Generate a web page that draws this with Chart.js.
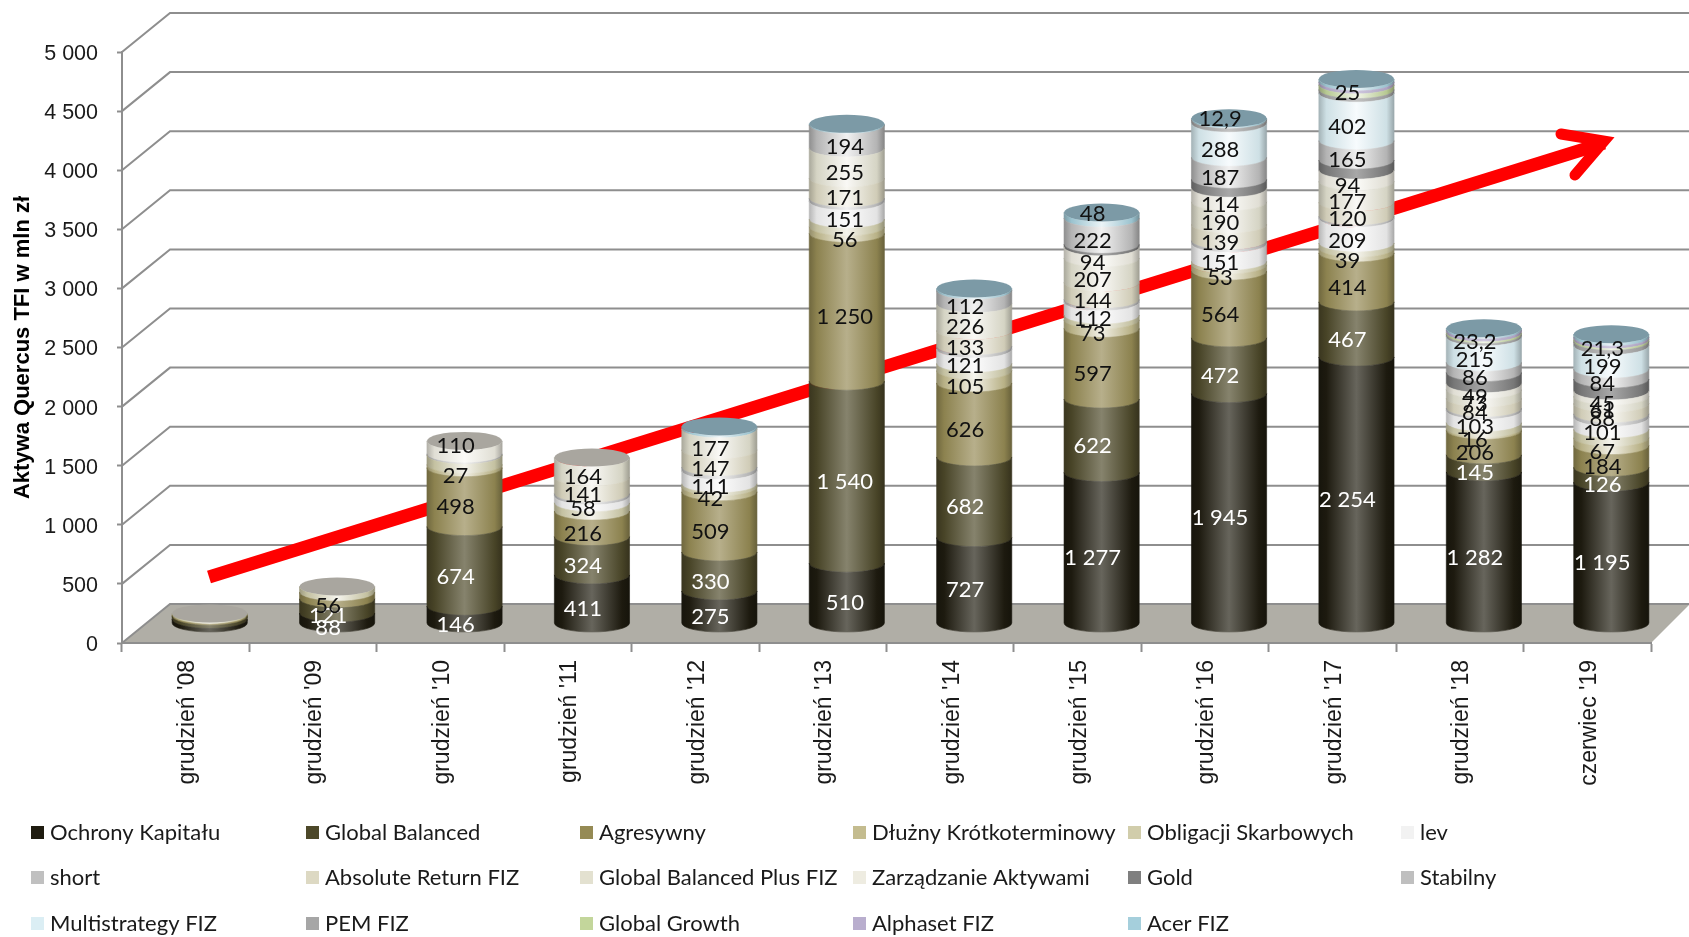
<!DOCTYPE html>
<html>
<head>
<meta charset="utf-8">
<title>Aktywa Quercus TFI</title>
<script src="https://cdn.jsdelivr.net/npm/chart.js@4"></script>
<style>
    html, body { margin: 0; padding: 0; background: #ffffff; }
    canvas { display: block; }
</style>
</head>
<body>
<canvas id="assetsChart" width="1689" height="937"></canvas>
<script>
const categories = ["grudzień '08", "grudzień '09", "grudzień '10", "grudzień '11", "grudzień '12", "grudzień '13", "grudzień '14", "grudzień '15", "grudzień '16", "grudzień '17", "grudzień '18", "czerwiec '19"];

const ochrony = [35, 88, 146, 411, 275, 510, 727, 1277, 1945, 2254, 1282, 1195];
const globalBalanced = [25, 121, 674, 324, 330, 1540, 682, 622, 472, 467, 145, 126];
const agresywny = [10, 56, 498, 216, 509, 1250, 626, 597, 564, 414, 206, 184];
const dluzny = [5, null, 27, null, 42, 56, 105, 73, 53, 39, 16, 67];
const obligacji = [10, 48, 80, 70, 26, 65, 60, 40, 30, 45, 50, 71];
const lev = [null, null, null, 58, 111, 151, 121, 112, 151, 209, 103, 101];
const shortFund = [null, null, 10, 20, 30, 25, 25, 20, 24, 16, 20, 30];
const absoluteReturn = [null, null, null, 141, 147, 171, 133, 144, 139, 120, 84, 88];
const globalBalancedPlus = [null, null, null, 164, 177, 255, 226, 207, 190, 177, 73, 61];
const zarzadzanie = [null, null, 110, null, null, null, null, 94, 114, 94, 49, 45];
const gold = [null, null, null, null, null, null, null, 21, 75, 85, 95, 100];
const stabilny = [0, 0, 0, 0, null, 194, 112, 222, 187, 165, 86, 84];
const multistrategy = [null, null, null, null, null, null, null, null, 288, 402, 215, 199];
const pem = [null, null, null, null, null, null, null, null, 30, 30, 20, 35];
const globalGrowth = [null, null, null, null, null, null, null, null, null, 40, 15, 15];
const alphaset = [null, null, null, null, null, null, null, null, null, 25, 23.2, 21.3];
const acer = [null, null, null, null, 20, 10, 17, 48, 12.9, 25, 15, 25];

const seriesNames = ["Ochrony Kapitału", "Global Balanced", "Agresywny", "Dłużny Krótkoterminowy", "Obligacji Skarbowych", "lev", "short", "Absolute Return FIZ", "Global Balanced Plus FIZ", "Zarządzanie Aktywami", "Gold", "Stabilny", "Multistrategy FIZ", "PEM FIZ", "Global Growth", "Alphaset FIZ", "Acer FIZ"];
const seriesValues = [ochrony, globalBalanced, agresywny, dluzny, obligacji, lev, shortFund, absoluteReturn, globalBalancedPlus, zarzadzanie, gold, stabilny, multistrategy, pem, globalGrowth, alphaset, acer];
const seriesColors = ["#1f1c10", "#4d4829", "#958a54", "#c4bc8f", "#d1cdab", "#f2f2f2", "#c0c0c0", "#ddd9c3", "#e3e1d0", "#eeece1", "#7f7f7f", "#bfbfbf", "#dbeef4", "#a6a6a6", "#c3d69b", "#b9aece", "#a5cfdc"];
const lidColors = { "Stabilny": "#a9a69f", "Acer FIZ": "#7c9aa6" };

// series and points that carry no label in the original
const unlabelledSeries = ["Obligacji Skarbowych", "short", "Gold", "PEM FIZ", "Global Growth"];
const unlabelledCategories = ["grudzień '08"];
const unlabelledAcer = ["grudzień '12", "grudzień '13", "grudzień '14", "grudzień '17", "grudzień '18", "czerwiec '19"];

const labelFont = "22px Lato";
const lineGray = "#8e8e8e";

// 3d look: the walls are shifted by this much, bars stand halfway
const depthX = 48;
const depthY = 39;
const ellipseY = 9;

function formatValue(v){
    return String(v).replace(".", ",").replace(/\B(?=(\d{3})+(?!\d))/g, " ");
}

function mixColor(hex, target, amount){
    const parts = [1, 3, 5].map(i => parseInt(hex.substr(i, 2), 16));
    const mixed = parts.map(p => Math.round(p + (target - p) * amount));
    return "rgb(" + mixed.join(",") + ")";
}

function drawWalls(chart){
    const ctx = chart.ctx;
    const area = chart.chartArea;
    const yScale = chart.scales.y;

    ctx.save();
    ctx.fillStyle = "#b0aea6";
    ctx.beginPath();
    ctx.moveTo(area.left, area.bottom);
    ctx.lineTo(area.left + depthX, area.bottom - depthY);
    ctx.lineTo(chart.width + 1, area.bottom - depthY);
    ctx.lineTo(area.right, area.bottom);
    ctx.closePath();
    ctx.fill();

    ctx.strokeStyle = lineGray;
    ctx.lineWidth = 2;
    yScale.ticks.forEach(tick => {
        const y = yScale.getPixelForValue(tick.value);
        ctx.beginPath();
        ctx.moveTo(area.left, y);
        ctx.lineTo(area.left + depthX, y - depthY);
        ctx.lineTo(chart.width, y - depthY);
        ctx.stroke();
    });
    ctx.restore();
}

function drawArrow(chart){
    const ctx = chart.ctx;
    ctx.save();
    ctx.strokeStyle = "#ff0000";
    ctx.lineWidth = 13;
    ctx.beginPath();
    ctx.moveTo(209, 577);
    ctx.lineTo(1604, 143);
    ctx.stroke();
    ctx.lineWidth = 11;
    ctx.lineJoin = "miter";
    ctx.lineCap = "round";
    ctx.beginPath();
    ctx.moveTo(1561, 134);
    ctx.lineTo(1604, 141);
    ctx.lineTo(1575, 175);
    ctx.stroke();
    ctx.restore();
}

function drawSegment(chart, bar, color){
    const ctx = chart.ctx;
    const x = bar.x + depthX / 2;
    const top = bar.y - depthY / 2;
    const base = bar.base - depthY / 2;
    const r = bar.width / 2;
    // pale bands go almost white in the middle, dark ones stay dark
    const light = parseInt(color.substr(3, 2), 16) > 185 ? 0.78 : 0.32;

    const grad = ctx.createLinearGradient(x - r, 0, x + r, 0);
    grad.addColorStop(0, mixColor(color, 0, 0.25));
    grad.addColorStop(0.1, mixColor(color, 0, 0.06));
    grad.addColorStop(0.5, mixColor(color, 255, light));
    grad.addColorStop(0.9, mixColor(color, 0, 0.06));
    grad.addColorStop(1, mixColor(color, 0, 0.3));

    ctx.save();
    ctx.fillStyle = grad;
    ctx.strokeStyle = grad;
    ctx.lineWidth = 0.6;
    ctx.beginPath();
    ctx.moveTo(x - r, top);
    ctx.lineTo(x - r, base);
    ctx.ellipse(x, base, r, ellipseY, 0, Math.PI, 0, true);
    ctx.lineTo(x + r, top);
    ctx.ellipse(x, top, r, ellipseY, 0, 0, Math.PI, false);
    ctx.closePath();
    ctx.fill();
    ctx.stroke();
    ctx.restore();
}

function drawLids(chart){
    const ctx = chart.ctx;
    categories.forEach((cat, c) => {
        let top = -1;
        seriesValues.forEach((values, s) => {
            if(values[c] !== null){
                top = s;
            }
        });
        const bar = chart.getDatasetMeta(top).data[c];
        ctx.save();
        ctx.fillStyle = lidColors[seriesNames[top]];
        ctx.beginPath();
        ctx.ellipse(bar.x + depthX / 2, bar.y - depthY / 2, bar.width / 2, ellipseY, 0, 0, Math.PI * 2);
        ctx.fill();
        ctx.restore();
    });
}

function hasLabel(s, c){
    const v = seriesValues[s][c];
    if(!v || unlabelledSeries.includes(seriesNames[s]) || unlabelledCategories.includes(categories[c])){
        return false;
    }
    return !(seriesNames[s] === "Acer FIZ" && unlabelledAcer.includes(categories[c]));
}

function drawLabels(chart){
    const ctx = chart.ctx;
    ctx.save();
    ctx.font = labelFont;
    ctx.textAlign = "center";
    ctx.textBaseline = "middle";
    seriesValues.forEach((values, s) => {
        ctx.fillStyle = s < 2 ? "#ffffff" : "#111111";
        chart.getDatasetMeta(s).data.forEach((bar, c) => {
            if(!hasLabel(s, c)){
                return;
            }
            const onLid = seriesNames[s] === "Acer FIZ";
            let y = onLid ? bar.y + 1 : (bar.y + bar.base) / 2 + ellipseY + 1;
            // this one sits on the lid of its bar
            if(seriesNames[s] === "Zarządzanie Aktywami" && categories[c] === "grudzień '10"){
                y = bar.y + 5;
            }
            // labels of this bar are nearly centred, the others lean left
            const shiftX = categories[c] === "grudzień '13" ? -2 : -9;
            ctx.fillText(formatValue(values[c]), bar.x + depthX / 2 + shiftX, y - depthY / 2);
        });
    });
    ctx.restore();
}

function drawLegend(chart){
    const ctx = chart.ctx;
    const columns = [31, 306, 580, 853, 1128, 1401];
    const rows = [833, 878, 924];
    ctx.save();
    ctx.font = "22px Lato";
    ctx.textBaseline = "middle";
    chart.data.datasets.forEach((dataset, i) => {
        const x = columns[i % 6];
        const y = rows[Math.floor(i / 6)];
        ctx.fillStyle = seriesColors[i];
        ctx.fillRect(x, y - 7, 13, 13);
        ctx.fillStyle = "#1a1a1a";
        ctx.fillText(dataset.label, x + 19, y);
    });
    ctx.restore();
}

const cylinderPlugin = {
    id: "cylinders",
    beforeDraw(chart){
        drawWalls(chart);
    },
    beforeDatasetsDraw(chart){
        drawArrow(chart);
    },
    beforeDatasetDraw(chart, args){
        args.meta.data.forEach((bar, c) => {
            if(seriesValues[args.index][c]){
                drawSegment(chart, bar, seriesColors[args.index]);
            }
        });
        return false;
    },
    afterDatasetsDraw(chart){
        drawLids(chart);
        drawLabels(chart);
        drawLegend(chart);
    }
};

new Chart(document.getElementById("assetsChart"), {
    type: 'bar',
    data: {
        labels: categories,
        datasets: seriesNames.map((name, i) => ({
            label: name,
            data: seriesValues[i],
            backgroundColor: seriesColors[i],
            barPercentage: 1,
            categoryPercentage: 0.59
        }))
    },
    options: {
        responsive: false,
        animation: false,
        layout: {
            padding: { left: 0, right: 38, top: 52, bottom: 0 }
        },
        plugins: {
            legend: { display: false },
            tooltip: { enabled: false }
        },
        scales: {
            x: {
                stacked: true,
                afterFit(scale){
                    scale.height = 294;
                },
                border: { color: lineGray, width: 2 },
                grid: { drawOnChartArea: false, tickLength: 9, tickColor: lineGray, tickWidth: 2 },
                ticks: {
                    minRotation: 90,
                    maxRotation: 90,
                    padding: 8,
                    labelOffset: 2,
                    color: "#1a1a1a",
                    font: { family: "Liberation Sans", size: 23 }
                }
            },
            y: {
                stacked: true,
                min: 0,
                max: 5000,
                afterFit(scale){
                    scale.width = 122;
                },
                border: { color: lineGray, width: 2 },
                grid: { drawOnChartArea: false, tickLength: 5, tickColor: lineGray, tickWidth: 2 },
                ticks: {
                    stepSize: 500,
                    padding: 19,
                    labelOffset: 2,
                    color: "#1a1a1a",
                    font: { family: "Liberation Sans", size: 21.5 },
                    callback: value => formatValue(value)
                },
                title: {
                    display: true,
                    text: "Aktywa Quercus TFI w mln zł",
                    color: "#000000",
                    padding: { top: 10, bottom: 0 },
                    font: { family: "Liberation Sans", size: 22, weight: "bold" }
                }
            }
        }
    },
    plugins: [cylinderPlugin]
});
</script>
</body>
</html>
